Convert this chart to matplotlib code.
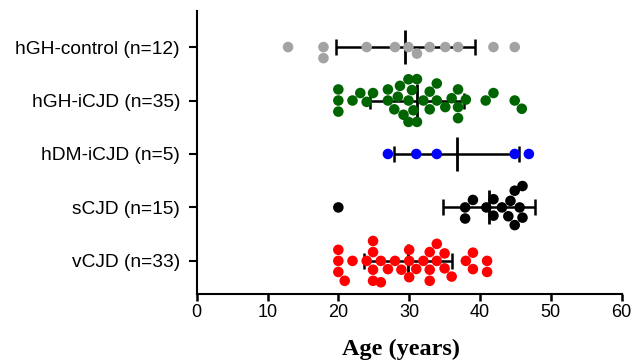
import numpy as np
import pandas as pd
import matplotlib
matplotlib.use("Agg")
import matplotlib.pyplot as plt
import seaborn as sns

plt.rcParams["font.family"] = ["Liberation Sans", "DejaVu Sans"]

groups = ["hGH-control (n=12)", "hGH-iCJD (n=35)", "hDM-iCJD (n=5)",
          "sCJD (n=15)", "vCJD (n=33)"]
colors = ["#a3a3a3", "#006400", "#0000ff", "#000000", "#ff0000"]

hgh_control = [12.9, 17.9, 17.9, 24.0, 28.0, 29.9, 31.1, 32.9, 35.1, 36.9,
               41.9, 44.9]
hgh_icjd = [20.0, 20.0, 20.0, 22.0, 23.1, 24.0, 24.9, 27.0, 27.0, 27.9,
            28.4, 28.7, 29.2, 29.9, 29.9, 29.9, 30.4, 30.6, 31.1, 31.1,
            32.0, 32.9, 32.9, 33.9, 33.9, 35.1, 36.0, 36.9, 36.9, 36.9,
            38.0, 40.8, 41.9, 44.9, 45.9]
hdm_icjd = [27.0, 31.0, 33.9, 44.9, 46.9]
scjd = [20.0, 37.9, 37.9, 39.0, 40.9, 41.9, 41.9, 43.1, 44.0, 44.3, 44.9,
        44.9, 45.6, 46.0, 46.0]
vcjd = [20.0, 20.0, 20.0, 20.9, 22.0, 24.0, 24.9, 24.9, 24.9, 24.9, 26.0,
        26.0, 27.0, 28.0, 28.9, 30.0, 30.0, 30.0, 31.0, 32.0, 32.9, 32.9,
        32.9, 33.9, 33.9, 35.0, 35.0, 36.0, 38.0, 39.0, 39.0, 41.0, 41.0]

# mean and SD as drawn on the chart
means = [29.45, 31.1, 36.7, 41.3, 29.85]
sds = [9.85, 6.6, 8.8, 6.5, 6.25]

values = [hgh_control, hgh_icjd, hdm_icjd, scjd, vcjd]
df = pd.DataFrame({
    "group": np.repeat(groups, [len(v) for v in values]),
    "age": np.concatenate(values),
})

fig = plt.figure(figsize=(6.33, 3.63), dpi=100)
ax = fig.add_axes([0.3107, 0.19, 0.6714, 0.7805])

sns.swarmplot(data=df, x="age", y="group", order=groups, hue="group",
              hue_order=groups, palette=colors, size=7.6, linewidth=0,
              legend=False, ax=ax, zorder=3)

pos = np.arange(len(groups))
ax.errorbar(means, pos, xerr=sds, fmt="none", ecolor="black", elinewidth=1.8,
            capsize=6, capthick=1.8, zorder=2)
ax.plot(means, pos, linestyle="none", marker="|", markersize=25,
        markeredgewidth=2, color="black", zorder=2)

ax.set_xlim(0, 60)
ax.set_xticks(range(0, 61, 10))
ax.set_ylim(4.62, -0.68)
ax.set_xlabel("")
ax.set_ylabel("")
ax.spines["top"].set_visible(False)
ax.spines["right"].set_visible(False)
ax.spines["left"].set_linewidth(1.5)
ax.spines["bottom"].set_linewidth(1.5)
ax.tick_params(axis="x", length=5, width=1.8, pad=2, labelsize=13)
ax.tick_params(axis="y", length=6, width=1.5, pad=6, labelsize=13.8)

fig.text(401 / 633, 0.0386, "Age (years)", ha="center", va="center",
         family="Liberation Serif", fontweight="bold", fontsize=17.5)

fig.savefig("out.png", dpi=100)
